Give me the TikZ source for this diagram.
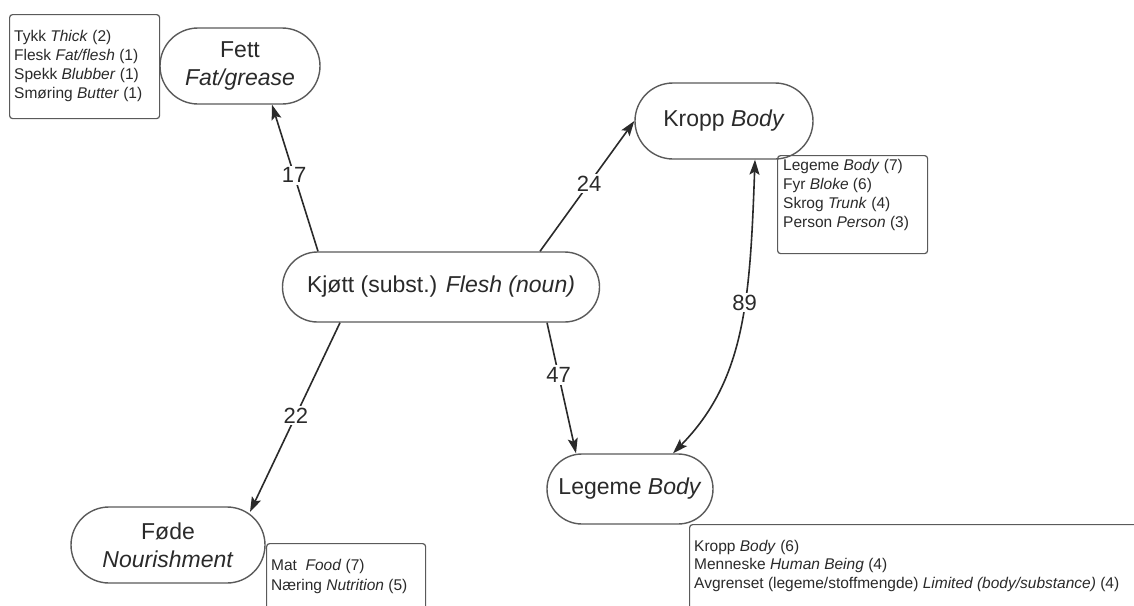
\documentclass[tikz,border=0pt]{standalone}
\usepackage{fontspec}
\setmainfont{Liberation Sans}
\usetikzlibrary{arrows.meta,calc}
\definecolor{edgec}{HTML}{2A2A2A}
\definecolor{bordc}{HTML}{5A5A5A}
\definecolor{txtc}{HTML}{2A2A2A}
\begin{document}
\begin{tikzpicture}[x=1pt,y=-1pt,
  pill/.style={draw=bordc, line width=1.4pt, inner sep=0pt, text=txtc, font=\fontsize{23}{28}\selectfont, align=center},
  infobox/.style={draw=bordc, line width=1.2pt, rounded corners=3pt, inner sep=0pt},
  boxtext/.style={inner sep=0pt, text=txtc, font=\fontsize{15.5}{19}\selectfont, align=left},
  link/.style={draw=edgec, line width=1.6pt, -{Stealth[length=15pt,width=10pt,inset=3pt]}},
  dlink/.style={draw=edgec, line width=1.6pt, {Stealth[length=15pt,width=10pt,inset=3pt]}-{Stealth[length=15pt,width=10pt,inset=3pt]}},
  num/.style={fill=white, inner sep=2pt, text=txtc, font=\fontsize{22}{26}\selectfont}
]
\useasboundingbox (0,0) rectangle (1134,605);
\fill[white] (0,0) rectangle (1134,605);

% main nodes
\node[pill, minimum width=160pt, minimum height=76pt, rounded corners=38pt] (fett) at (240,66) {Fett\\\textit{Fat/grease}};
\node[pill, minimum width=178pt, minimum height=76pt, rounded corners=38pt] (kropp) at (724,121) {Kropp \textit{Body}};
\node[pill, minimum width=317pt, minimum height=70pt, rounded corners=35pt] (kjott) at (441,287) {Kjøtt (subst.) \textit{Flesh (noun)}};
\node[pill, minimum width=194pt, minimum height=76pt, rounded corners=38pt] (fode) at (168,545) {Føde\\\textit{Nourishment}};
\node[pill, minimum width=166pt, minimum height=70pt, rounded corners=35pt] (legeme) at (630,489) {Legeme \textit{Body}};

% info boxes
\node[infobox, anchor=north west, minimum width=150pt, minimum height=104pt] (fettbox) at (9,14) {};
\node[boxtext, anchor=west] (fettboxt) at ($(fettbox.west)+(5,-1)$) {Tykk \textit{Thick} (2)\\Flesk \textit{Fat/flesh} (1)\\Spekk \textit{Blubber} (1)\\Smøring \textit{Butter} (1)};

\node[infobox, anchor=north west, minimum width=150pt, minimum height=98pt] (kroppbox) at (777,155) {};
\node[boxtext, anchor=north west] (kroppboxt) at ($(kroppbox.north west)+(6,4)$) {Legeme \textit{Body} (7)\\Fyr \textit{Bloke} (6)\\Skrog \textit{Trunk} (4)\\Person \textit{Person} (3)};

\node[infobox, anchor=north west, minimum width=159pt, minimum height=90pt] (fodebox) at (266,543) {};
\node[boxtext, anchor=north west, font=\fontsize{15.5}{20}\selectfont] (fodeboxt) at ($(fodebox.north west)+(5,16)$) {Mat\ \ \textit{Food} (7)\\Næring \textit{Nutrition} (5)};

\node[infobox, anchor=north west, minimum width=480pt, minimum height=110pt] (legemebox) at (689,524) {};
\node[boxtext, anchor=north west, font=\fontsize{15.5}{18.5}\selectfont] (legemeboxt) at ($(legemebox.north west)+(5,16)$) {Kropp \textit{Body} (6)\\Menneske \textit{Human Being} (4)\\Avgrenset (legeme/stoffmengde) \textit{Limited (body/substance)} (4)};

% connectors
\draw[link] ($(kjott.north)+(-123,0)$) -- node[num, pos=0.52] {17} ($(fett.south)+(32,0)$);
\draw[link] ($(kjott.north)+(99,0)$) -- node[num, pos=0.52] {24} (kropp.west);
\draw[link] ($(kjott.south)+(-101,0)$) -- node[num, pos=0.49] {22} ($(fode.center)+(82,-33)$);
\draw[link] ($(kjott.south)+(106,0)$) -- node[num, pos=0.40] {47} ($(legeme.north)+(-54,0)$);
\draw[dlink] ($(kropp.south)+(31,0)$) .. controls (750,300) and (745,380) .. node[num, pos=0.40] {89} ($(legeme.north)+(43,0)$);
\end{tikzpicture}
\end{document}
